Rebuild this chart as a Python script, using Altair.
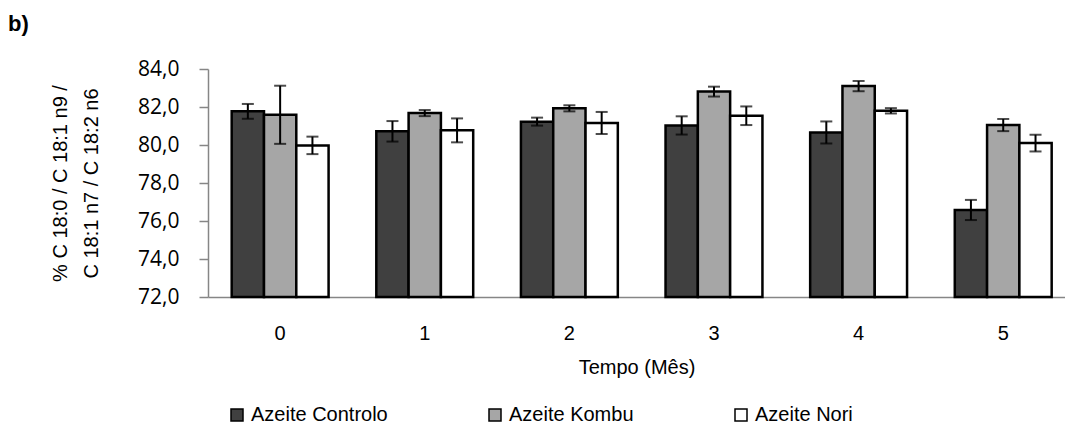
import altair as alt
import pandas as pd

# Storage time (months) and the three olive oil treatments
months = ["0", "1", "2", "3", "4", "5"]
series = ["Azeite Controlo", "Azeite Kombu", "Azeite Nori"]

# Mean % of C18 fatty acids and standard deviations
controlo = [81.77, 80.72, 81.23, 81.03, 80.66, 76.58]
controlo_sd = [0.39, 0.54, 0.21, 0.48, 0.58, 0.53]
kombu = [81.59, 81.68, 81.93, 82.81, 83.10, 81.05]
kombu_sd = [1.53, 0.16, 0.16, 0.26, 0.27, 0.32]
nori = [79.98, 80.77, 81.16, 81.54, 81.80, 80.10]
nori_sd = [0.46, 0.63, 0.58, 0.49, 0.14, 0.44]

colors = ["#404040", "#a6a6a6", "#ffffff"]
y_ticks = [72, 74, 76, 78, 80, 82, 84]

rows = []
for name, vals, sds in zip(series, [controlo, kombu, nori], [controlo_sd, kombu_sd, nori_sd]):
    for m, v, s in zip(months, vals, sds):
        rows.append({"mes": m, "serie": name, "valor": v, "lo": v - s, "hi": v + s})
df = pd.DataFrame(rows)

x_enc = alt.X(
    "mes:N",
    sort=months,
    scale=alt.Scale(paddingInner=0.33, paddingOuter=0.128, align=0.64),
    axis=alt.Axis(
        title="Tempo (Mês)",
        labelAngle=0,
        ticks=False,
        labelPadding=26,
        labelFont="Liberation Sans",
        labelFontSize=20,
        labelColor="black",
        titleFont="Liberation Sans",
        titleFontSize=20,
        titleFontWeight="normal",
        titleColor="black",
        titleY=60,
        titleBaseline="top",
        domainColor="#868686",
        domainWidth=1.5,
    ),
)
xoff_enc = alt.XOffset("serie:N", sort=series, scale=alt.Scale(paddingInner=0, paddingOuter=0))
y_scale = alt.Scale(domain=[72, 84], nice=False, zero=False)
y_axis = alt.Axis(
    values=y_ticks,
    labelExpr="replace(format(datum.value, '.1f'), '.', ',')",
    labelOverlap=False,
    labelFont="Open Sans",
    labelFontSize=21,
    labelColor="black",
    labelPadding=20,
    tickSize=9,
    tickColor="#868686",
    tickWidth=1.5,
    domainColor="#868686",
    domainWidth=1.5,
    grid=False,
    title=["% C 18:0 / C 18:1 n9 /", "C 18:1 n7 / C 18:2 n6"],
    titleFont="Liberation Sans",
    titleFontSize=20,
    titleFontWeight="normal",
    titleColor="black",
    titleLineHeight=31,
    titleX=-142,
    titleY=114,
    titleAngle=-90,
    titleAlign="center",
    titleBaseline="alphabetic",
)

bars = alt.Chart(df).mark_bar(stroke="black", strokeWidth=2.5).encode(
    x=x_enc,
    xOffset=xoff_enc,
    y=alt.Y("valor:Q", scale=y_scale, axis=y_axis),
    y2=alt.datum(72),
    color=alt.Color(
        "serie:N",
        sort=series,
        scale=alt.Scale(domain=series, range=colors),
        legend=alt.Legend(
            title=None,
            orient="none",
            legendX=19,
            legendY=336,
            direction="horizontal",
            columns=3,
            columnPadding=97,
            padding=0,
            symbolType="square",
            symbolSize=144,
            symbolStrokeColor="black",
            symbolStrokeWidth=1.5,
            labelFont="Liberation Sans",
            labelFontSize=20,
            labelColor="black",
            labelOffset=4,
            labelLimit=0,
        ),
    ),
)

err_line = alt.Chart(df).mark_rule(color="black", strokeWidth=2).encode(
    x=x_enc, xOffset=xoff_enc, y=alt.Y("lo:Q", scale=y_scale, axis=y_axis), y2="hi:Q"
)
cap_lo = alt.Chart(df).mark_tick(color="black", thickness=2, size=12).encode(
    x=x_enc, xOffset=xoff_enc, y=alt.Y("lo:Q", scale=y_scale, axis=y_axis)
)
cap_hi = alt.Chart(df).mark_tick(color="black", thickness=2, size=12).encode(
    x=x_enc, xOffset=xoff_enc, y=alt.Y("hi:Q", scale=y_scale, axis=y_axis)
)

panel_label = alt.Chart(pd.DataFrame({"t": ["b)"]})).mark_text(
    font="Liberation Sans", fontSize=22, fontWeight="bold", align="left", baseline="alphabetic", color="black"
).encode(text="t:N", x=alt.value(-200), y=alt.value(-38))

chart = (
    alt.layer(bars, err_line, cap_lo, cap_hi, panel_label)
    .properties(
        width=857,
        height=228,
        autosize=alt.AutoSizeParams(type="none"),
        padding={"left": 208, "top": 69, "right": 0, "bottom": 127},
        background="white",
    )
    .configure_view(stroke=None)
)

chart.save("out.html", embed_options={"renderer": "svg", "actions": False})
